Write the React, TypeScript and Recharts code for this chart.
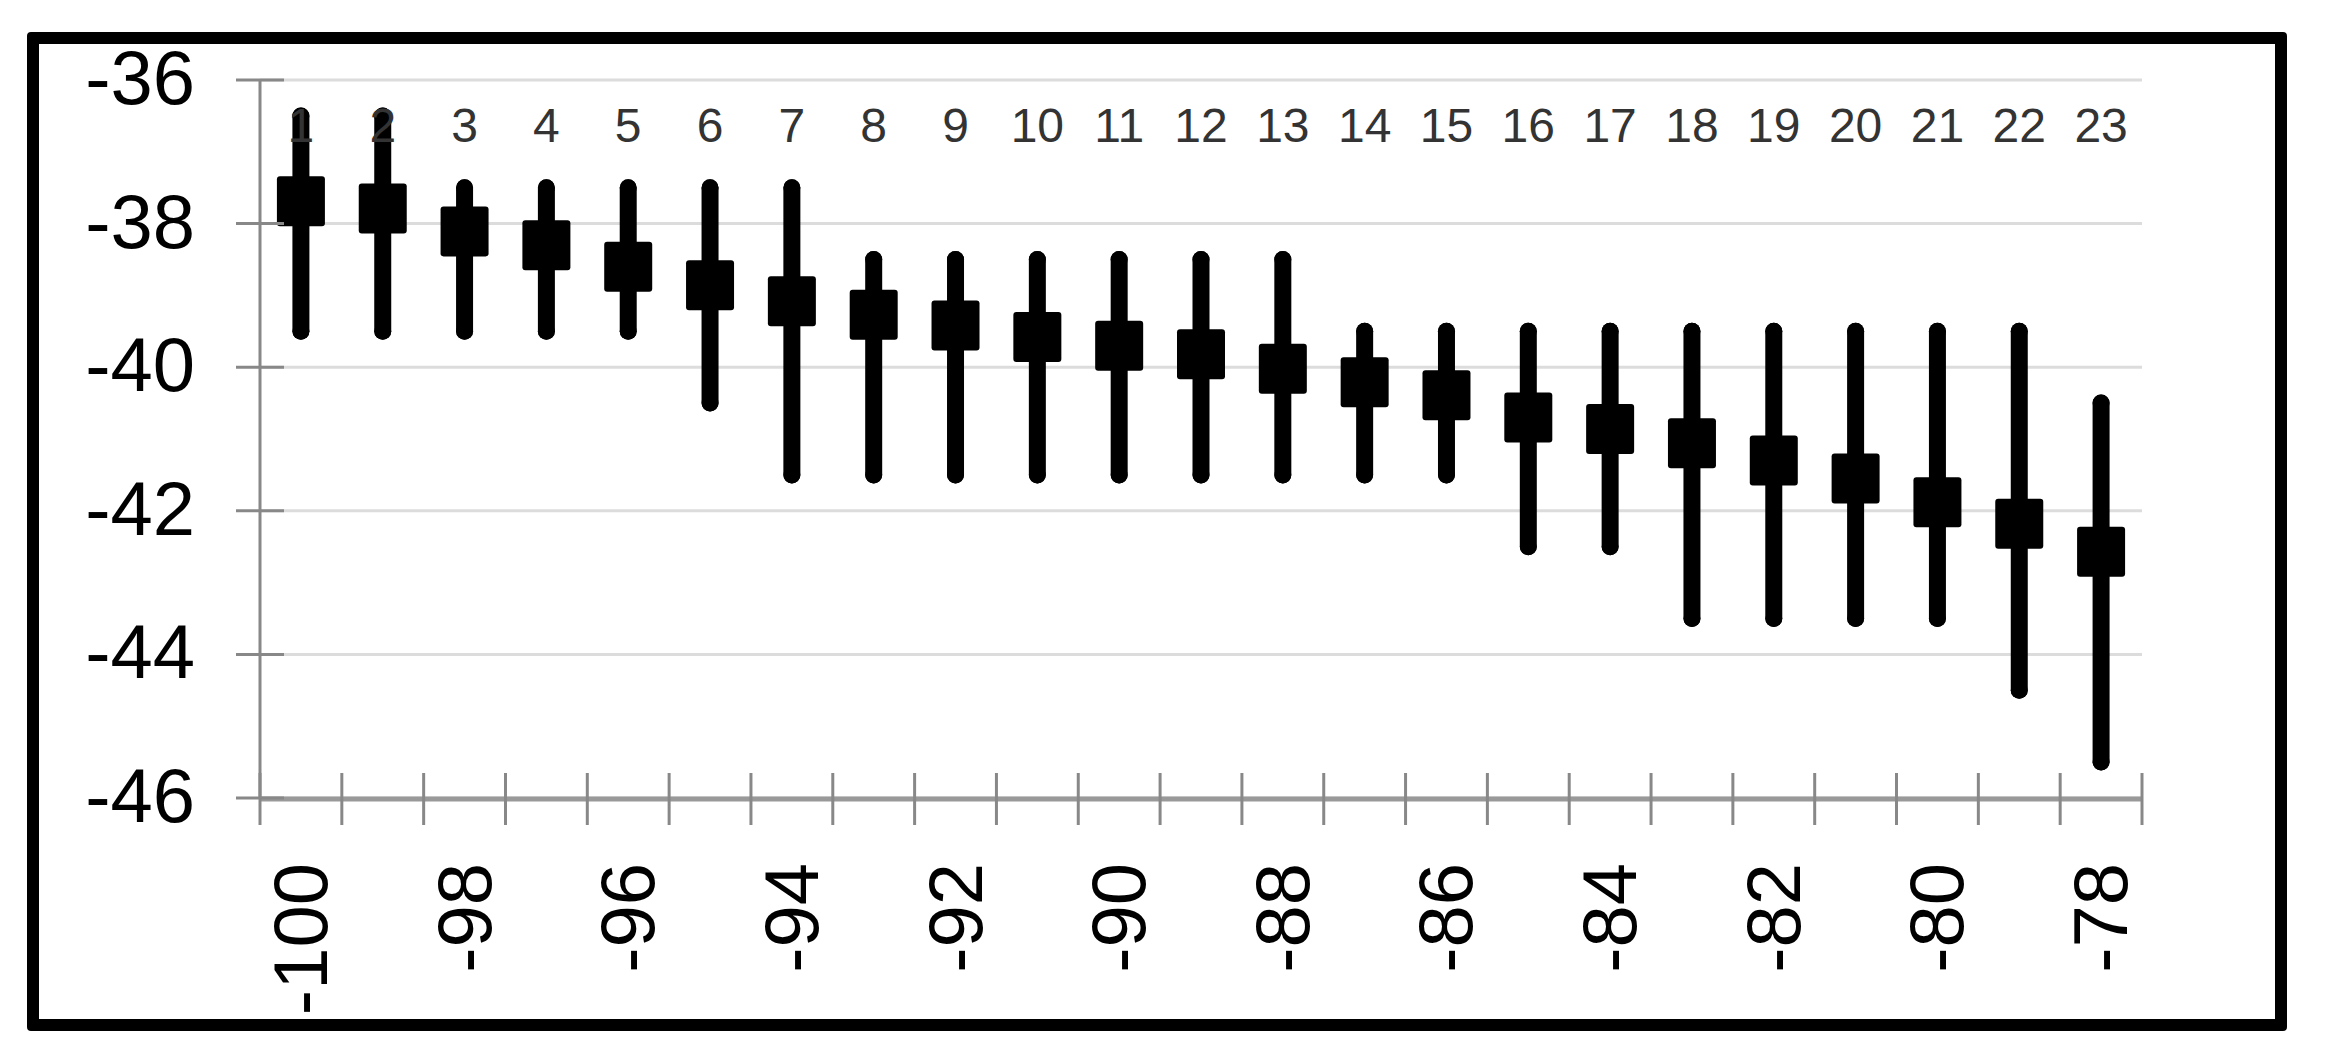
import { ComposedChart, Scatter, ErrorBar, XAxis, YAxis, CartesianGrid } from "recharts";

// longitude categories, one point each
const xValues = [
  -100, -99, -98, -97, -96, -95, -94, -93, -92, -91, -90, -89, -88, -87, -86, -85, -84, -83, -82, -81, -80, -79, -78,
];
const means = [
  -37.69, -37.79, -38.11, -38.3, -38.6, -38.86, -39.08, -39.27, -39.42, -39.58, -39.7, -39.82, -40.02, -40.21, -40.39,
  -40.7, -40.86, -41.06, -41.3, -41.55, -41.88, -42.18, -42.57,
];
const highs = [
  -36.5, -36.5, -37.5, -37.5, -37.5, -37.5, -37.5, -38.5, -38.5, -38.5, -38.5, -38.5, -38.5, -39.5, -39.5, -39.5, -39.5,
  -39.5, -39.5, -39.5, -39.5, -39.5, -40.5,
];
const lows = [
  -39.5, -39.5, -39.5, -39.5, -39.5, -40.5, -41.5, -41.5, -41.5, -41.5, -41.5, -41.5, -41.5, -41.5, -41.5, -42.5, -42.5,
  -43.5, -43.5, -43.5, -43.5, -44.5, -45.5,
];
const xLabelTicks = [-100, -98, -96, -94, -92, -90, -88, -86, -84, -82, -80, -78];
const xBoundaryTicks = [
  -100.5, -99.5, -98.5, -97.5, -96.5, -95.5, -94.5, -93.5, -92.5, -91.5, -90.5, -89.5, -88.5, -87.5, -86.5, -85.5,
  -84.5, -83.5, -82.5, -81.5, -80.5, -79.5, -78.5, -77.5,
];
const yTicks = [-46, -44, -42, -40, -38, -36];

const data = xValues.map((x, i) => ({
  x,
  y: means[i],
  err: [means[i] - lows[i], highs[i] - means[i]],
}));

const FONT = '"Liberation Sans", Arial, sans-serif';
const X_DOMAIN: [number, number] = [-100.5, -77.5];

function CrossTickX(props: any) {
  const { x, y } = props;
  return <line x1={x} x2={x} y1={y - 26} y2={y + 26} stroke="#888" strokeWidth={3} />;
}

function RotatedLabel(props: any) {
  const { x, y, payload } = props;
  const tx = x + 26;
  const ty = y + 65;
  return (
    <text
      x={tx}
      y={ty}
      transform={`rotate(-90, ${tx}, ${ty})`}
      textAnchor="end"
      fontSize={76}
      fontFamily={FONT}
      fill="#000"
    >
      {payload.value}
    </text>
  );
}

function NumberLabel(props: any) {
  const { x, y, payload } = props;
  const idx = xValues.indexOf(payload.value);
  return (
    <text x={x} y={y + 62} textAnchor="middle" fontSize={48} fontFamily={FONT} fill="#333">
      {idx + 1}
    </text>
  );
}

function YTick(props: any) {
  const { x, y, payload } = props;
  return (
    <g>
      <line x1={x - 24} x2={x + 24} y1={y} y2={y} stroke="#888" strokeWidth={3} />
      <text x={x - 65} y={y + 24} textAnchor="end" fontSize={76} fontFamily={FONT} fill="#000">
        {payload.value}
      </text>
    </g>
  );
}

function Box(props: any) {
  const { cx, cy } = props;
  return <rect x={cx - 24} y={cy - 25} width={48} height={50} rx={3} fill="#000" />;
}

export default function App() {
  return (
    <div style={{ position: "absolute", left: 0, top: 0, width: 2325, height: 1057, background: "#fff" }}>
      <ComposedChart
        width={2325}
        height={1057}
        data={data}
        margin={{ top: 79, right: 183, bottom: 257, left: 259 }}
      >
        <CartesianGrid xAxisId="ticks" vertical={false} stroke="#dcdcdc" strokeWidth={3} />
        <XAxis
          xAxisId="nums"
          orientation="top"
          type="number"
          dataKey="x"
          domain={X_DOMAIN}
          ticks={xValues}
          interval={0}
          height={1}
          axisLine={false}
          tickLine={false}
          tickSize={0}
          tickMargin={0}
          tick={<NumberLabel />}
        />
        <XAxis
          xAxisId="ticks"
          type="number"
          dataKey="x"
          domain={X_DOMAIN}
          ticks={xBoundaryTicks}
          interval={0}
          height={1}
          axisLine={{ stroke: "#999", strokeWidth: 5 }}
          tickLine={false}
          tickSize={0}
          tickMargin={0}
          tick={<CrossTickX />}
        />
        <XAxis
          xAxisId="labels"
          type="number"
          dataKey="x"
          domain={X_DOMAIN}
          ticks={xLabelTicks}
          interval={0}
          height={1}
          axisLine={false}
          tickLine={false}
          tickSize={0}
          tickMargin={0}
          tick={<RotatedLabel />}
        />
        <YAxis
          type="number"
          domain={[-46, -36]}
          ticks={yTicks}
          interval={0}
          width={1}
          axisLine={{ stroke: "#888", strokeWidth: 3 }}
          tickLine={false}
          tickSize={0}
          tickMargin={0}
          tick={<YTick />}
        />
        <Scatter xAxisId="ticks" dataKey="y" fill="#000" shape={<Box />} isAnimationActive={false}>
          <ErrorBar
            dataKey="err"
            direction="y"
            width={0.001}
            stroke="#000"
            strokeWidth={17}
            strokeLinecap="round"
            isAnimationActive={false}
          />
        </Scatter>
      </ComposedChart>
      <div
        style={{
          position: "absolute",
          left: 27,
          top: 32,
          width: 2260,
          height: 999,
          border: "12px solid #000",
          borderRadius: 4,
          boxSizing: "border-box",
          pointerEvents: "none",
        }}
      />
    </div>
  );
}
